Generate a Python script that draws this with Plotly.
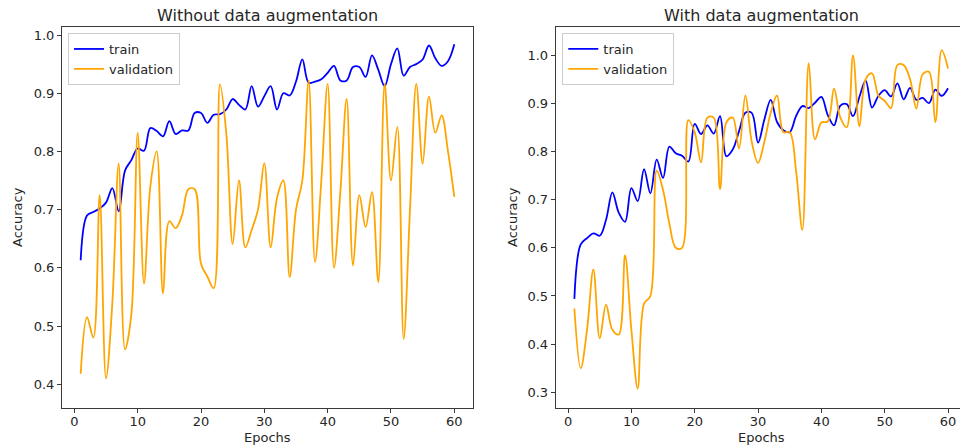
import plotly.graph_objects as go

epochs = list(range(1, 61))

# Without data augmentation
left_train = [0.613, 0.690, 0.696, 0.702, 0.712, 0.737, 0.697, 0.767, 0.785, 0.805,
              0.801, 0.840, 0.835, 0.826, 0.852, 0.830, 0.836, 0.836, 0.866, 0.866,
              0.849, 0.863, 0.864, 0.872, 0.890, 0.880, 0.872, 0.912, 0.877, 0.895,
              0.912, 0.872, 0.900, 0.896, 0.920, 0.958, 0.918, 0.920, 0.924, 0.935,
              0.947, 0.922, 0.922, 0.945, 0.945, 0.928, 0.965, 0.940, 0.912, 0.950,
              0.977, 0.930, 0.945, 0.950, 0.958, 0.982, 0.960, 0.947, 0.955, 0.984]
left_val = [0.418, 0.515, 0.480, 0.725, 0.410, 0.540, 0.779, 0.460, 0.520, 0.832,
            0.573, 0.740, 0.800, 0.556, 0.680, 0.668, 0.690, 0.735, 0.735, 0.607,
            0.585, 0.565, 0.915, 0.830, 0.641, 0.750, 0.635, 0.665, 0.700, 0.780,
            0.635, 0.720, 0.750, 0.584, 0.700, 0.750, 0.922, 0.610, 0.750, 0.916,
            0.600, 0.730, 0.890, 0.604, 0.725, 0.670, 0.730, 0.575, 0.916, 0.750,
            0.842, 0.478, 0.700, 0.916, 0.779, 0.894, 0.832, 0.862, 0.800, 0.722]

# With data augmentation
right_train = [0.494, 0.607, 0.620, 0.630, 0.625, 0.658, 0.715, 0.673, 0.654, 0.724,
               0.697, 0.763, 0.713, 0.783, 0.745, 0.810, 0.796, 0.791, 0.779, 0.857,
               0.836, 0.854, 0.837, 0.873, 0.790, 0.804, 0.842, 0.880, 0.880, 0.818,
               0.866, 0.907, 0.861, 0.844, 0.840, 0.873, 0.894, 0.890, 0.901, 0.913,
               0.876, 0.854, 0.895, 0.898, 0.873, 0.913, 0.947, 0.891, 0.915, 0.927,
               0.914, 0.941, 0.908, 0.932, 0.907, 0.911, 0.900, 0.928, 0.915, 0.931]
right_val = [0.474, 0.350, 0.430, 0.555, 0.412, 0.482, 0.430, 0.420, 0.584, 0.430,
             0.308, 0.484, 0.500, 0.760, 0.720, 0.650, 0.600, 0.600, 0.865, 0.840,
             0.777, 0.870, 0.870, 0.722, 0.860, 0.870, 0.806, 0.916, 0.820, 0.776,
             0.820, 0.880, 0.916, 0.840, 0.840, 0.760, 0.637, 0.983, 0.825, 0.860,
             0.862, 0.930, 0.870, 0.850, 0.999, 0.852, 0.950, 0.962, 0.916, 0.905,
             0.890, 0.979, 0.979, 0.950, 0.889, 0.960, 0.965, 0.861, 1.010, 0.972]

titles = ["Without data augmentation", "With data augmentation"]
x_ticks = [0, 10, 20, 30, 40, 50, 60]
left_yticks = [0.4, 0.5, 0.6, 0.7, 0.8, 0.9, 1.0]
right_yticks = [0.3, 0.4, 0.5, 0.6, 0.7, 0.8, 0.9, 1.0]

BLUE = "#0000ff"
ORANGE = "#ffa500"
FONT = "DejaVu Sans"
TXT = "#262626"
AX = "#3a3a3a"

W, H = 960, 446
T, B = 27, 38
PH = H - T - B

fig = go.Figure()

def add(x, y, name, color, xa, ya, legend, show):
    fig.add_trace(go.Scatter(
        x=x, y=y, mode="lines", name=name, xaxis=xa, yaxis=ya,
        line=dict(color=color, width=1.8, shape="spline", smoothing=1.0),
        legend=legend, showlegend=show, hoverinfo="skip"))

add(epochs, left_train, "train", BLUE, "x", "y", "legend", True)
add(epochs, left_val, "validation", ORANGE, "x", "y", "legend", True)
add(epochs, right_train, "train", BLUE, "x2", "y2", "legend2", True)
add(epochs, right_val, "validation", ORANGE, "x2", "y2", "legend2", True)

axis_common = dict(showgrid=False, zeroline=False, showline=True, linecolor=AX,
                   linewidth=1, ticks="outside", ticklen=4, tickwidth=1,
                   tickcolor=AX, tickfont=dict(family=FONT, size=13, color=TXT))

lx0, lx1 = 62 / W, 473 / W
rx0, rx1 = 555.7 / W, 1.0

fig.update_layout(
    width=W, height=H, margin=dict(l=0, r=0, t=T, b=B, pad=0),
    paper_bgcolor="white", plot_bgcolor="white",
    xaxis=dict(domain=[lx0, lx1], range=[-1.95, 62.95], tickvals=x_ticks,
               mirror=True, anchor="y", ticklabelstandoff=-3, **axis_common),
    yaxis=dict(domain=[0, 1], range=[0.3591, 1.01375], tickvals=left_yticks,
               tickformat=".1f", mirror=True, anchor="x", **axis_common),
    xaxis2=dict(domain=[rx0, rx1], range=[-1.95, -1.95 + (960 - 555.7) / 6.333],
                tickvals=x_ticks, mirror=True, anchor="y2", ticklabelstandoff=-3,
                **axis_common),
    yaxis2=dict(domain=[0, 1], range=[0.2676, 1.0581], tickvals=right_yticks,
                tickformat=".1f", mirror=False, anchor="x2", **axis_common),
    legend=dict(x=68 / W, y=(H - B - 33) / PH, xanchor="left", yanchor="top",
                bgcolor="rgba(255,255,255,0.85)", bordercolor="#cccccc", borderwidth=1,
                font=dict(family=FONT, size=13, color=TXT), tracegroupgap=0,
                itemwidth=30),
    legend2=dict(x=562.3 / W, y=(H - B - 33) / PH, xanchor="left", yanchor="top",
                 bgcolor="rgba(255,255,255,0.85)", bordercolor="#cccccc", borderwidth=1,
                 font=dict(family=FONT, size=13, color=TXT), tracegroupgap=0,
                 itemwidth=30),
    showlegend=True,
)

def ann(text, x, y, size, angle=0):
    fig.add_annotation(text=text, xref="paper", yref="paper",
                       x=x / W, y=(H - B - y) / PH, showarrow=False,
                       xanchor="center", yanchor="middle", textangle=angle,
                       font=dict(family=FONT, size=size, color=TXT))

ann(titles[0], 267.5, 15.5, 16)
ann(titles[1], 761.5, 15.5, 16)
ann("Epochs", 267.5, 437.5, 13)
ann("Epochs", 761.5, 437.5, 13)
ann("Accuracy", 17, 217, 13, -90)
ann("Accuracy", 512, 217, 13, -90)

fig.write_html("out.html")
